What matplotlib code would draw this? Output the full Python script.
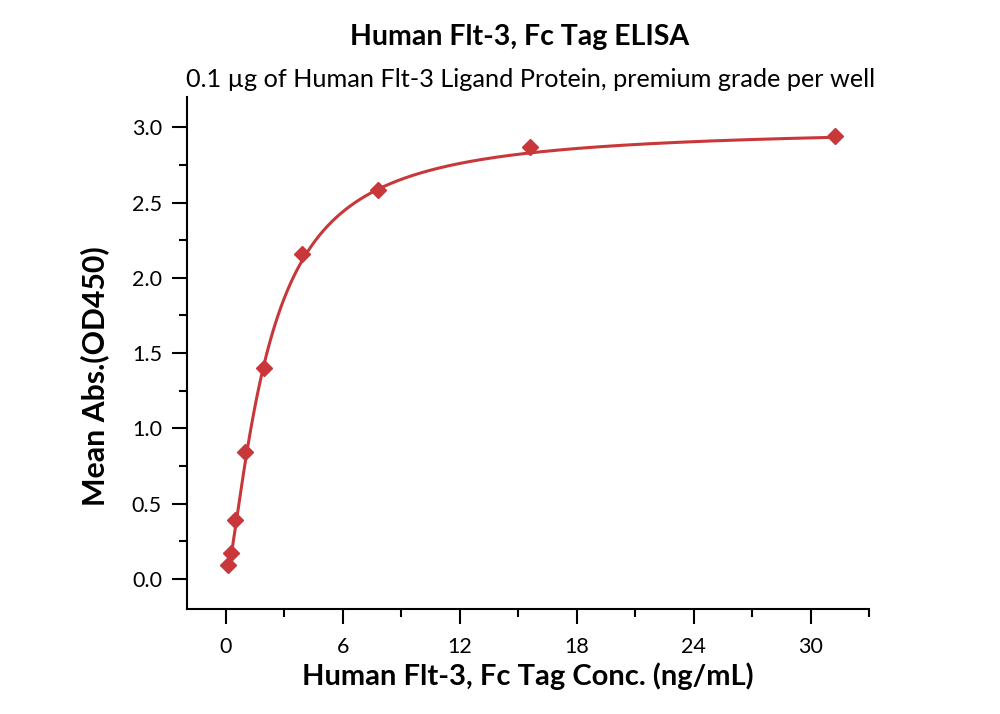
import numpy as np
import matplotlib
matplotlib.use("Agg")
import matplotlib.pyplot as plt
from matplotlib.ticker import MultipleLocator

plt.rcParams['font.family'] = ['Lato', 'DejaVu Sans']

conc = [0.122, 0.244, 0.488, 0.977, 1.953, 3.906, 7.8125, 15.625, 31.25]
od450 = [0.09, 0.17, 0.39, 0.84, 1.40, 2.16, 2.58, 2.87, 2.94]

# 4PL fit parameters (bottom, top, EC50, hill)
fit_bottom, fit_top, fit_ec50, fit_hill = 0.0, 3.0, 2.1, 1.4

title = "Human Flt-3, Fc Tag ELISA"
subtitle = "0.1 µg of Human Flt-3 Ligand Protein, premium grade per well"
xlabel = "Human Flt-3, Fc Tag Conc. (ng/mL)"
ylabel = "Mean Abs.(OD450)"

red = "#c8373a"

fig = plt.figure(figsize=(10, 7.14), dpi=100)
ax = fig.add_axes([0.187, 0.147, 0.682, 0.717])

xs = np.linspace(min(conc), max(conc), 600)
ys = fit_bottom + (fit_top - fit_bottom) / (1 + (fit_ec50 / xs) ** fit_hill)
ax.plot(xs, ys, color=red, lw=2.2, zorder=2)
ax.plot(conc, od450, linestyle='none', marker='D', ms=8.5, color=red, zorder=3)

ax.set_xlim(-2.0, 33.0)
ax.set_ylim(-0.2, 3.2)
ax.xaxis.set_major_locator(MultipleLocator(6))
ax.xaxis.set_minor_locator(MultipleLocator(3))
ax.yaxis.set_major_locator(MultipleLocator(0.5))
ax.yaxis.set_minor_locator(MultipleLocator(0.25))
ax.yaxis.set_major_formatter(matplotlib.ticker.FormatStrFormatter('%.1f'))

for s in ['top', 'right']:
    ax.spines[s].set_visible(False)
for s in ['left', 'bottom']:
    ax.spines[s].set_linewidth(1.5)
ax.tick_params(which='major', direction='out', length=11, width=1.5, labelsize=15.5)
ax.tick_params(which='minor', direction='out', length=5.5, width=1.5)
ax.tick_params(axis='x', which='major', pad=9)
ax.tick_params(axis='y', which='major', pad=7)

ax.set_xlabel(xlabel, fontsize=21, fontweight='bold', labelpad=4)
ax.set_ylabel(ylabel, fontsize=21.8, fontweight='bold')
ax.yaxis.label.set_va('center')
ax.yaxis.set_label_coords(-0.135, 0.455)

fig.text(0.52, 0.948, title, ha='center', va='center', fontsize=20.5, fontweight='bold')
fig.text(0.531, 0.888, subtitle, ha='center', va='center', fontsize=18.2)

fig.savefig("out.png", dpi=100)
